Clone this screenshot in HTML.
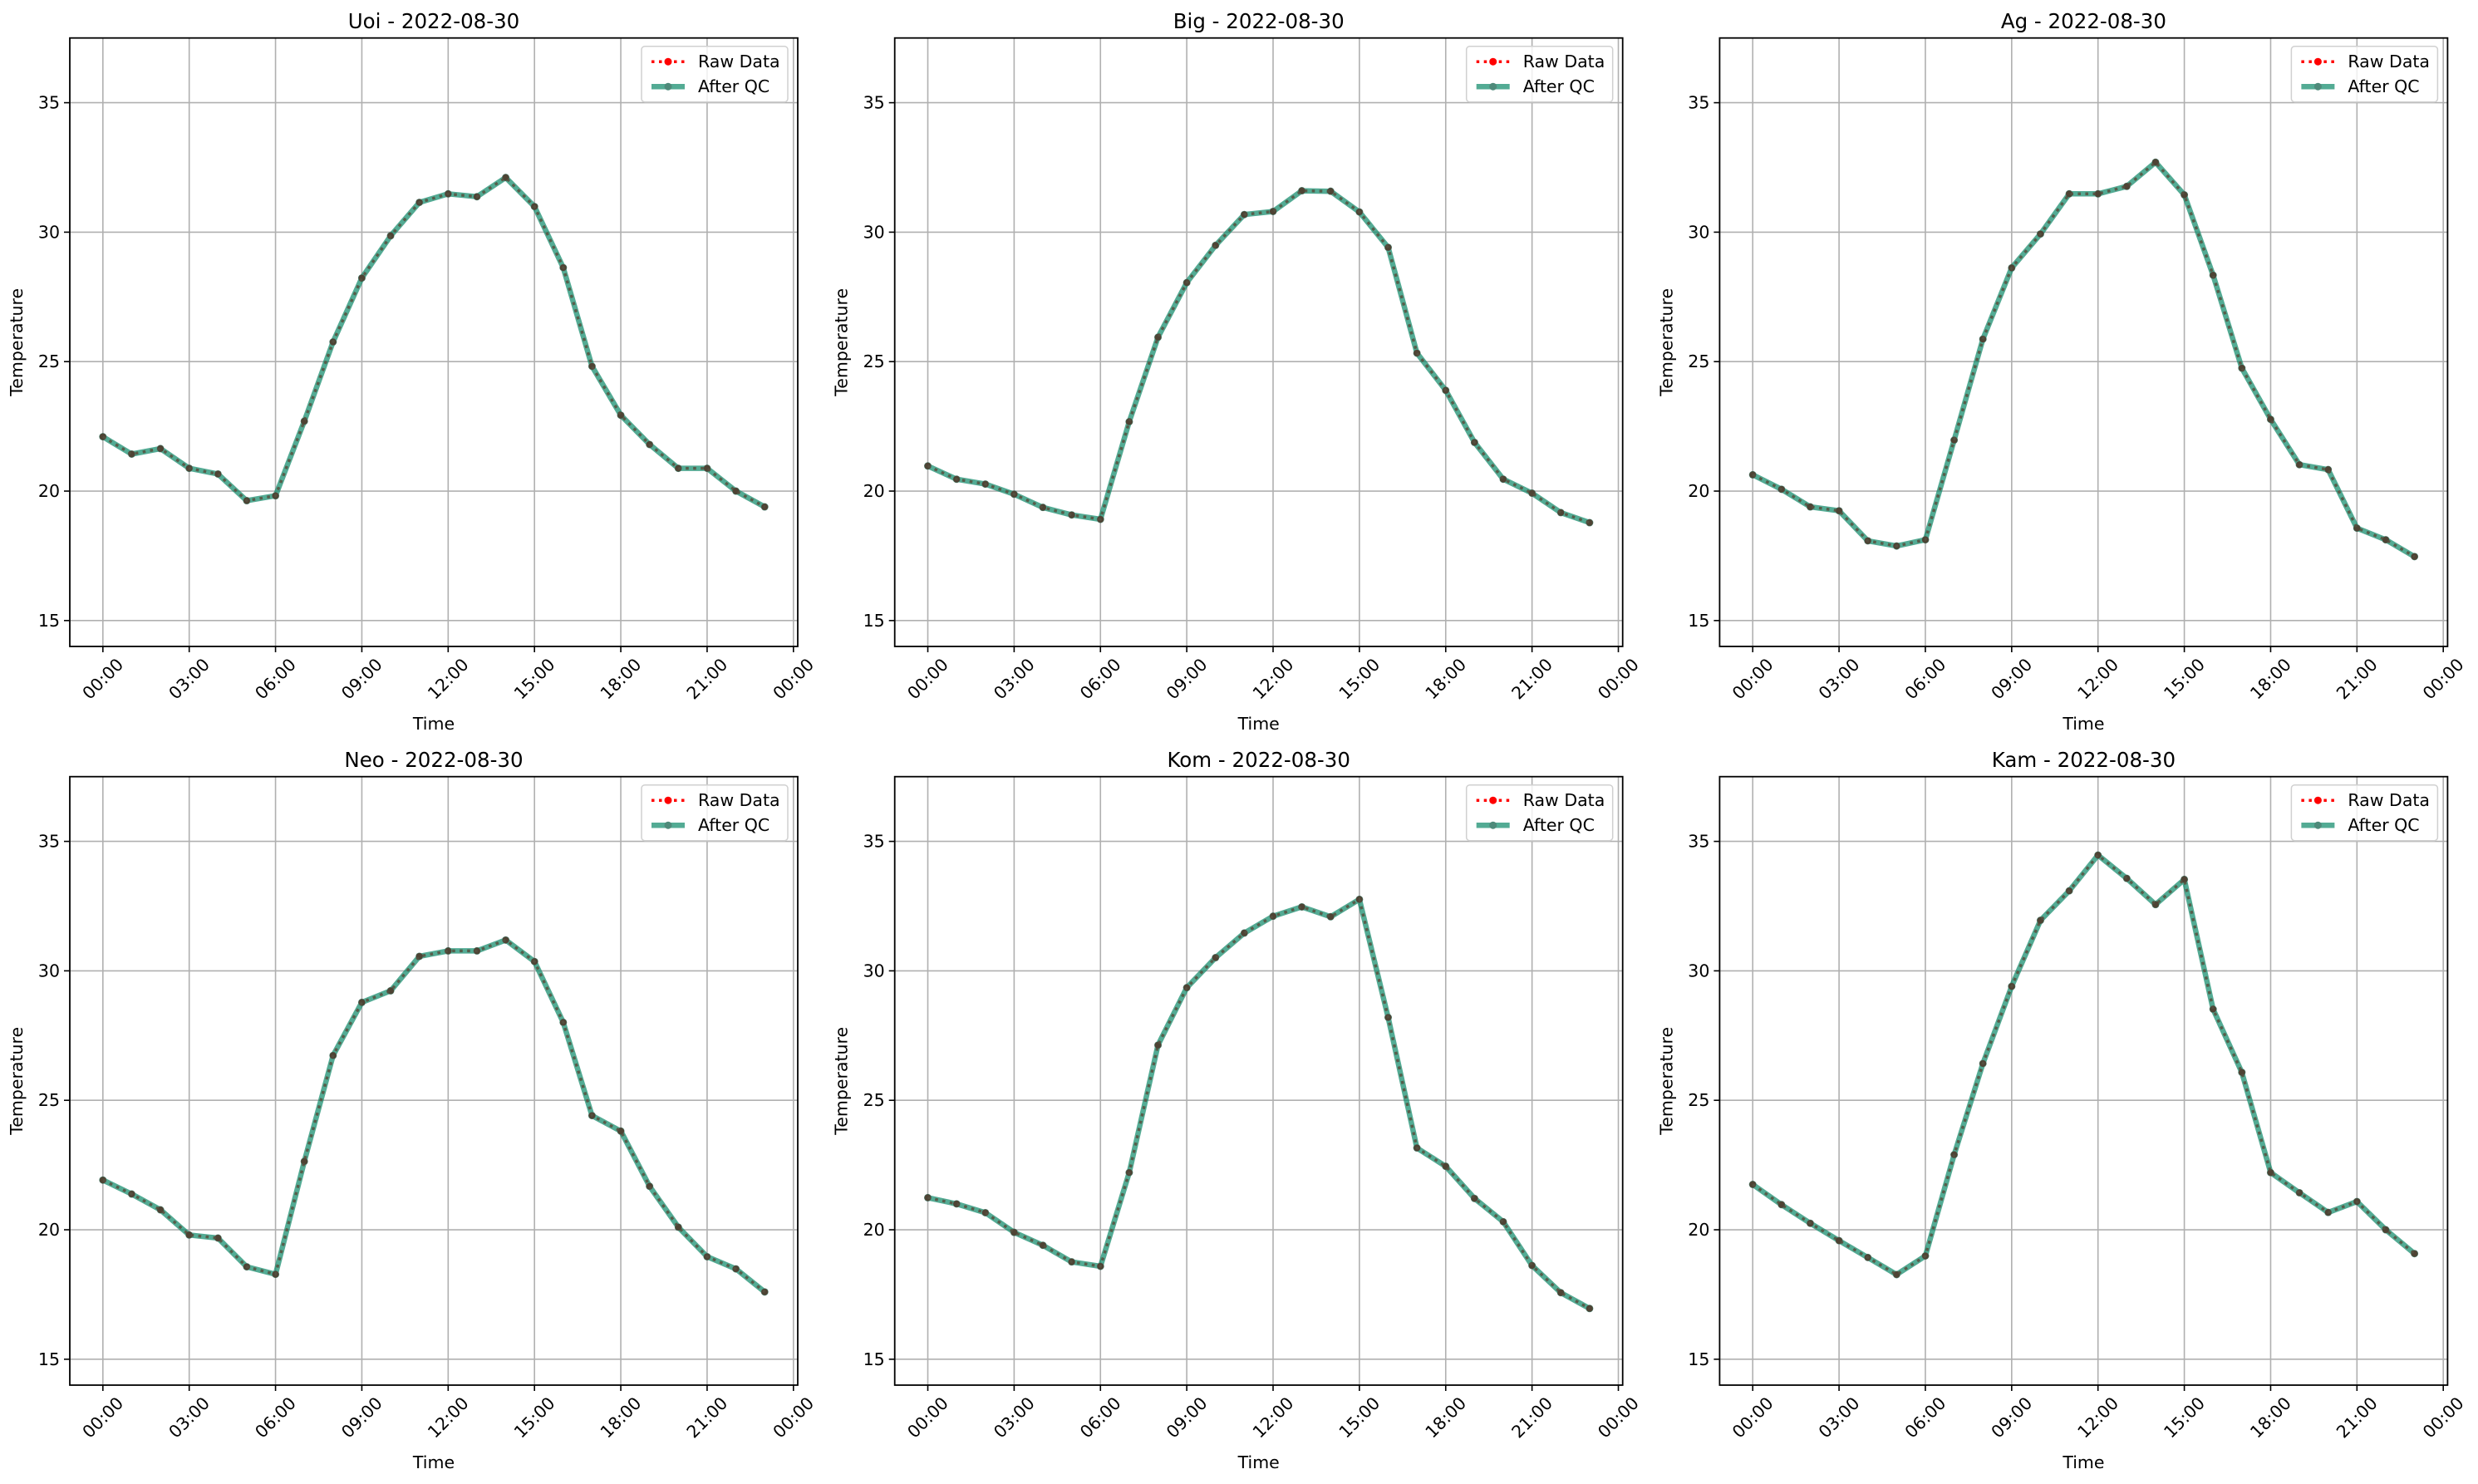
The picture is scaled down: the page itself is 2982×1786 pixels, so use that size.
<!DOCTYPE html>
<html><head><meta charset="utf-8"><style>
html,body{margin:0;padding:0;background:#fff;}
svg text{font-family:"DejaVu Sans","Liberation Sans",sans-serif;fill:#000;}
</style></head><body>
<svg id="fig" width="2982" height="1781" viewBox="0 0 2982 1781" xmlns="http://www.w3.org/2000/svg"></svg>
<script>
const stations = ["Uoi","Big","Ag","Neo","Kom","Kam"];
const dateLabel = "2022-08-30";
const hours = [0,1,2,3,4,5,6,7,8,9,10,11,12,13,14,15,16,17,18,19,20,21,22,23];
const uoiTemps = [22.1,21.43,21.64,20.88,20.66,19.63,19.82,22.7,25.76,28.23,29.86,31.15,31.48,31.37,32.11,30.99,28.63,24.82,22.93,21.8,20.88,20.88,20.0,19.39];
const bigTemps = [20.97,20.46,20.27,19.88,19.37,19.08,18.91,22.68,25.94,28.05,29.49,30.68,30.8,31.6,31.58,30.78,29.41,25.33,23.89,21.88,20.46,19.92,19.17,18.78];
const agTemps = [20.63,20.07,19.39,19.24,18.08,17.88,18.12,21.97,25.87,28.62,29.93,31.48,31.48,31.77,32.7,31.44,28.34,24.75,22.77,21.02,20.83,18.57,18.12,17.47];
const neoTemps = [21.92,21.38,20.77,19.8,19.68,18.57,18.28,22.64,26.73,28.78,29.23,30.56,30.77,30.77,31.19,30.36,28.01,24.41,23.81,21.68,20.1,18.96,18.49,17.6];
const komTemps = [21.24,21.0,20.66,19.9,19.4,18.76,18.59,22.21,27.13,29.35,30.51,31.46,32.11,32.47,32.09,32.76,28.2,23.16,22.45,21.21,20.31,18.62,17.57,16.96];
const kamTemps = [21.75,20.97,20.25,19.58,18.93,18.27,18.99,22.9,26.42,29.4,31.95,33.09,34.47,33.57,32.56,33.53,28.52,26.08,22.21,21.43,20.67,21.09,20.0,19.08];
const yTicks = [15,20,25,30,35];
const xTicks = [0,3,6,9,12,15,18,21,24];
const xTickLabels = ["00:00","03:00","06:00","09:00","12:00","15:00","18:00","21:00","00:00"];

const allTemps = [uoiTemps,bigTemps,agTemps,neoTemps,komTemps,kamTemps];
const NS = "http://www.w3.org/2000/svg";
const fig = document.getElementById('fig');
function mk(tag, attrs, parent){
  const e = document.createElementNS(NS, tag);
  for (const k in attrs) e.setAttribute(k, attrs[k]);
  parent.appendChild(e);
  return e;
}
const AX_W = 876, AX_H = 732.3;
const XMIN = -1.15, XMAX = 24.15, YMIN = 14.0, YMAX = 37.5;
const GREEN = "rgb(18,140,108)";

for (let p = 0; p < 6; p++) {
  const col = p % 3, row = Math.floor(p / 3);
  const L = 84 + col * 992.7, T = 45.7 + row * 889;
  const sx = h => L + (h - XMIN) / (XMAX - XMIN) * AX_W;
  const sy = v => T + AX_H - (v - YMIN) / (YMAX - YMIN) * AX_H;
  const g = mk('g', {}, fig);
  
  

  const bg = mk('rect', {x:L, y:T, width:AX_W, height:AX_H, fill:'#fff'}, g);
  
  

  // grid + ticks
  yTicks.forEach(v => {
    const y = sy(v);
    const gl = mk('line', {x1:L, x2:L+AX_W, y1:y, y2:y, stroke:'#b0b0b0', 'stroke-width':1.6}, g);
    
    
    mk('line', {x1:L-7, x2:L, y1:y, y2:y, stroke:'#000', 'stroke-width':1.6}, g);
    const t = mk('text', {x:L-12, y:y, 'font-size':20.5, 'text-anchor':'end', 'dominant-baseline':'central'}, g);
    t.textContent = String(v);
    
    
  });
  xTicks.forEach((h, i) => {
    const x = sx(h);
    const gl = mk('line', {x1:x, x2:x, y1:T, y2:T+AX_H, stroke:'#b0b0b0', 'stroke-width':1.6}, g);
    
    
    mk('line', {x1:x, x2:x, y1:T+AX_H, y2:T+AX_H+7, stroke:'#000', 'stroke-width':1.6}, g);
    const cy = T + AX_H + 39;
    const t = mk('text', {x:x, y:cy, 'font-size':20.5, 'text-anchor':'middle', 'dominant-baseline':'central', transform:`rotate(-45 ${x} ${cy})`}, g);
    t.textContent = xTickLabels[i];
    
    
  });

  const data = allTemps[p];
  const pts = hours.map((h, i) => sx(h).toFixed(1) + ',' + sy(data[i]).toFixed(1)).join(' ');
  // raw data (red dotted)
  const raw = mk('polyline', {points:pts, fill:'none', stroke:'#ff0000', 'stroke-width':3.5, 'stroke-dasharray':'3.5 5.5'}, g);
  
  
  hours.forEach((h, i) => {
    const c = mk('circle', {cx:sx(h), cy:sy(data[i]), r:4, fill:'#ff0000'}, g);
    
    
  });
  // after QC (green, alpha)
  const qc = mk('g', {opacity:0.72}, g);
  
  
  const ql = mk('polyline', {points:pts, fill:'none', stroke:GREEN, 'stroke-width':6.5, 'stroke-linejoin':'round'}, qc);
  
  
  hours.forEach((h, i) => {
    const c = mk('circle', {cx:sx(h), cy:sy(data[i]), r:4.5, fill:'#0b5e48'}, qc);
    
    
  });
  // dark dotted overlay look
  const ov = mk('polyline', {points:pts, fill:'none', stroke:'#5a5a48', 'stroke-width':3, 'stroke-dasharray':'3.5 5.5', opacity:0.55}, g);
  
  

  // spines
  const sp = mk('rect', {x:L, y:T, width:AX_W, height:AX_H, fill:'none', stroke:'#000', 'stroke-width':1.8}, g);
  
  

  // title & labels
  const title = mk('text', {x:L+AX_W/2, y:T-20, 'font-size':24.5, 'text-anchor':'middle', 'dominant-baseline':'central'}, g);
  title.textContent = stations[p] + ' - ' + dateLabel;
  
  
  const xl = mk('text', {x:L+AX_W/2, y:T+AX_H+93, 'font-size':20.5, 'text-anchor':'middle', 'dominant-baseline':'central'}, g);
  xl.textContent = 'Time';
  
  
  const yx = L - 64, yy = T + AX_H/2;
  const yl = mk('text', {x:yx, y:yy, 'font-size':20.5, 'text-anchor':'middle', 'dominant-baseline':'central', transform:`rotate(-90 ${yx} ${yy})`}, g);
  yl.textContent = 'Temperature';
  
  

  // legend
  const lg = mk('g', {}, g);
  
  
  const LR = L + AX_W - 12, LT = T + 10, LW = 176, LH = 67;
  mk('rect', {x:LR-LW, y:LT, width:LW, height:LH, rx:4, fill:'#fff', 'fill-opacity':0.8, stroke:'#d0d0d0', 'stroke-width':1.5}, lg);
  const hx1 = LR - LW + 12, hx2 = hx1 + 40, tx = hx2 + 16;
  const r1 = LT + 18.5, r2 = LT + 48.5;
  mk('line', {x1:hx1, x2:hx2, y1:r1, y2:r1, stroke:'#ff0000', 'stroke-width':3.5, 'stroke-dasharray':'3.5 5.5'}, lg);
  mk('circle', {cx:(hx1+hx2)/2, cy:r1, r:4.5, fill:'#ff0000'}, lg);
  const t1 = mk('text', {x:tx, y:r1, 'font-size':20.5, 'dominant-baseline':'central'}, lg);
  t1.textContent = 'Raw Data';
  
  
  const lgq = mk('g', {opacity:0.72}, lg);
  mk('line', {x1:hx1, x2:hx2, y1:r2, y2:r2, stroke:GREEN, 'stroke-width':6.5}, lgq);
  mk('circle', {cx:(hx1+hx2)/2, cy:r2, r:4.5, fill:'#0b5e48'}, lgq);
  const t2 = mk('text', {x:tx, y:r2, 'font-size':20.5, 'dominant-baseline':'central'}, lg);
  t2.textContent = 'After QC';
  
  
}
</script>
</body></html>
